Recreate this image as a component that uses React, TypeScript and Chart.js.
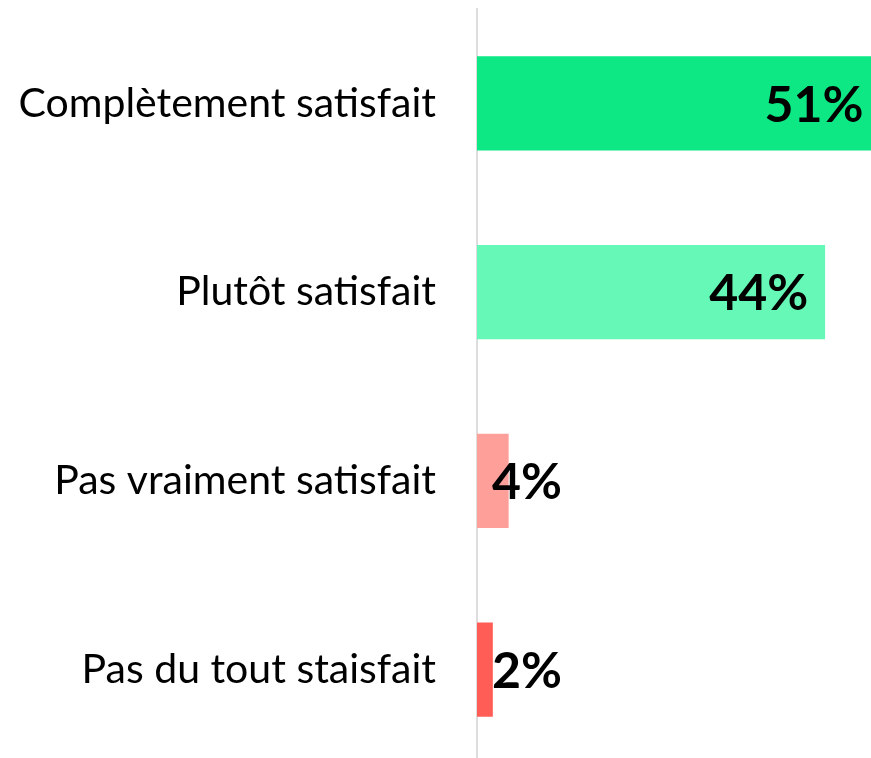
import React, { useEffect, useRef } from "react";
import { Chart, registerables } from "chart.js";

Chart.register(...registerables);

const categories = [
  "Complètement satisfait",
  "Plutôt satisfait",
  "Pas vraiment satisfait",
  "Pas du tout staisfait",
];
const values = [51, 44, 4, 2];
const barColors = ["#0de884", "#66f8b6", "#ff9f99", "#ff5d55"];
const xMax = 49.8;

const FONT = "Lato, 'Open Sans', sans-serif";

const valueLabels = {
  id: "valueLabels",
  afterDatasetsDraw(chart: any) {
    const ctx = chart.ctx;
    const meta = chart.getDatasetMeta(0);
    ctx.save();
    ctx.font = `bold 50px ${FONT}`;
    ctx.fillStyle = "#000";
    ctx.textBaseline = "middle";
    meta.data.forEach((bar: any, i: number) => {
      const v = values[i];
      const text = `${v}%`;
      if (v > 10) {
        ctx.textAlign = "right";
        ctx.fillText(text, bar.x - 17, bar.y + 2);
      } else {
        ctx.textAlign = "left";
        ctx.fillText(text, bar.base + 15, bar.y + 2);
      }
    });
    ctx.restore();
  },
};

export default function App() {
  const ref = useRef<HTMLCanvasElement | null>(null);
  useEffect(() => {
    document.body.style.margin = "0";
    document.body.style.overflow = "hidden";
    const chart = new Chart(ref.current!, {
      type: "bar",
      data: {
        labels: categories,
        datasets: [
          {
            data: values,
            backgroundColor: barColors,
            barPercentage: 0.5,
            categoryPercentage: 1,
          },
        ],
      },
      options: {
        indexAxis: "y",
        responsive: false,
        animation: false,
        layout: { padding: { top: 9, right: 0, bottom: 0, left: 18 } },
        plugins: { legend: { display: false }, tooltip: { enabled: false } },
        scales: {
          x: {
            min: 0,
            max: xMax,
            display: false,
          },
          y: {
            grid: { display: false, drawTicks: false },
            border: { display: true, color: "#dddddd", width: 2 },
            ticks: {
              color: "#000",
              padding: 41,
              font: { family: FONT, size: 41 },
            },
            afterFit(scale: any) {
              scale.paddingTop = 0;
              scale.paddingBottom = 0;
              scale.width = 459;
            },
          },
        },
      },
      plugins: [valueLabels],
    });
    return () => chart.destroy();
  }, []);
  return <canvas ref={ref} width={871} height={764} style={{ display: "block" }} />;
}
